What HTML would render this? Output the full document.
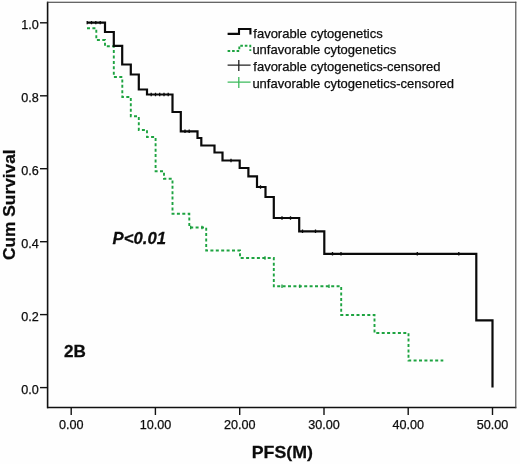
<!DOCTYPE html>
<html>
<head>
<meta charset="utf-8">
<title>Cum Survival vs PFS(M)</title>
<style>
html,body{margin:0;padding:0;background:#fefefe;}
body{width:520px;height:464px;overflow:hidden;}
svg{display:block;}
text{font-family:"Liberation Sans",Arial,sans-serif;fill:#0c0c0c;stroke:#0c0c0c;stroke-width:0.25px;}
.tk{font-size:12.6px;}
.lg{font-size:13px;}
.b{font-weight:bold;font-size:16px;}
</style>
</head>
<body>
<svg width="520" height="464" viewBox="0 0 520 464">
<rect x="0" y="0" width="520" height="464" fill="#fefefe"/>
<!-- frame -->
<line x1="47.6" y1="1.8" x2="47.6" y2="408.2" stroke="#111" stroke-width="1.6"/>
<line x1="47" y1="407.5" x2="516.3" y2="407.5" stroke="#111" stroke-width="1.5"/>
<line x1="47" y1="2.3" x2="516.3" y2="2.3" stroke="#333" stroke-width="1.1"/>
<line x1="515.8" y1="1.8" x2="515.8" y2="408.2" stroke="#444" stroke-width="1.1"/>
<!-- y ticks -->
<g stroke="#111" stroke-width="1.4">
<line x1="40" y1="22.8" x2="47.6" y2="22.8"/>
<line x1="40" y1="95.8" x2="47.6" y2="95.8"/>
<line x1="40" y1="168.7" x2="47.6" y2="168.7"/>
<line x1="40" y1="241.7" x2="47.6" y2="241.7"/>
<line x1="40" y1="314.6" x2="47.6" y2="314.6"/>
<line x1="40" y1="387.6" x2="47.6" y2="387.6"/>
</g>
<g class="tk" text-anchor="end">
<text x="38.8" y="29.1">1.0</text>
<text x="38.8" y="102.1">0.8</text>
<text x="38.8" y="175.0">0.6</text>
<text x="38.8" y="248.0">0.4</text>
<text x="38.8" y="320.9">0.2</text>
<text x="38.8" y="393.9">0.0</text>
</g>
<!-- x ticks -->
<g stroke="#111" stroke-width="1.4">
<line x1="71.2" y1="407.5" x2="71.2" y2="415"/>
<line x1="155.4" y1="407.5" x2="155.4" y2="415"/>
<line x1="239.7" y1="407.5" x2="239.7" y2="415"/>
<line x1="324" y1="407.5" x2="324" y2="415"/>
<line x1="408.2" y1="407.5" x2="408.2" y2="415"/>
<line x1="492.5" y1="407.5" x2="492.5" y2="415"/>
</g>
<g class="tk" text-anchor="middle">
<text x="71.2" y="429.3">0.00</text>
<text x="155.4" y="429.3">10.00</text>
<text x="239.7" y="429.3">20.00</text>
<text x="324" y="429.3">30.00</text>
<text x="408.2" y="429.3">40.00</text>
<text x="492.5" y="429.3">50.00</text>
</g>
<!-- axis titles -->
<text class="b" transform="translate(282.3,458) scale(1.07,1)" text-anchor="middle" style="font-size:16.6px">PFS(M)</text>
<text class="b" transform="translate(15.2,204.7) rotate(-90) scale(1.07,1)" text-anchor="middle" style="font-size:16.2px">Cum Survival</text>
<!-- annotations -->
<text class="b" transform="translate(112.6,243.9) scale(1.02,1)" style="font-style:italic;font-size:16.4px">P&lt;0.01</text>
<text class="b" transform="translate(64.1,357) scale(1.07,1)">2B</text>
<!-- green curve -->
<path fill="none" stroke="#1da340" stroke-width="1.9" stroke-dasharray="3 2.4" d="M87 28.3H96.3V40H105V46.3H113.8V77H122.3V97H130.8V116.3H138.8V130H147V137H155.6V171.3H164V178.8H172.5V213.8H189.3V227.5H206.2V250.5H240V258H273.8V286.3H341.2V315H374.5V333H408.5V360.5H443.3"/>
<!-- black curve -->
<path fill="none" stroke="#0a0a0a" stroke-width="2.2" stroke-linejoin="miter" d="M87 22.6H105V32H113.8V45.8H122.2V64.5H130.8V74.5H138.8V89.5H147V94.5H172.5V112H180.8V131.3H197.5V138H201.3V145.5H214.5V152.5H222.5V160.5H239.7V168H248.4V176.3H257V187H265.5V197H273.8V218H299.2V231.3H324.3V253.8H476.3V320.3H492.5V387.5"/>
<!-- censor ticks on black curve -->
<g stroke="#0a0a0a" stroke-width="1.3">
<path d="M91.5 20.9v3.4M95.8 20.9v3.4M100.2 20.9v3.4M87.2 20.9v3.4"/>
<path d="M151.2 92.8v3.4M155.5 92.8v3.4M159.7 92.8v3.4M164 92.8v3.4M168.2 92.8v3.4"/>
<path d="M185 129.6v3.4M189.2 129.6v3.4"/>
<path d="M231 158.8v3.4M260.5 185.3v3.4"/>
<path d="M282 216.3v3.4M290.5 216.3v3.4"/>
<path d="M302.5 229.6v3.4M315.5 229.6v3.4"/>
<path d="M332.5 252.1v3.4M341 252.1v3.4M417.3 252.1v3.4M458.8 252.1v3.4"/>
</g>
<!-- censor ticks on green curve -->
<g stroke="#1a9a3c" stroke-width="1.3">
<path d="M190.7 225.8v3.4M202 225.8v3.4M265 256.3v3.4M282 284.6v3.4M299.8 284.6v3.4M329 284.6v3.4"/>
</g>
<!-- legend -->
<path fill="none" stroke="#0a0a0a" stroke-width="2.1" d="M227.6 33.9H239V29H250.4V34.6"/>
<path fill="none" stroke="#1da340" stroke-width="1.9" stroke-dasharray="2.6 1.9" d="M227.6 51H239.3V45.7H250.3V51"/>
<path fill="none" stroke="#222" stroke-width="1.3" d="M227.6 65.2H250.6M238.8 60V70.9"/>
<path fill="none" stroke="#3dbb5c" stroke-width="1.3" d="M227.6 82.2H250.6M238.8 77V88"/>
<g class="lg">
<text x="253.3" y="37.5">favorable cytogenetics</text>
<text x="252.4" y="54">unfavorable cytogenetics</text>
<text x="253.3" y="71.2">favorable cytogenetics-censored</text>
<text x="252.4" y="87.5">unfavorable cytogenetics-censored</text>
</g>
</svg>
</body>
</html>
